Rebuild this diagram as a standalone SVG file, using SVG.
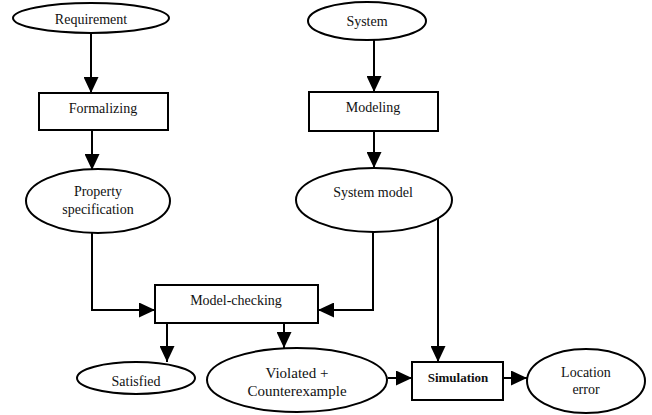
<svg xmlns="http://www.w3.org/2000/svg" width="652" height="415" viewBox="0 0 652 415">
<style>
.n{fill:#fff;stroke:#000;stroke-width:2}
.t{font-family:'Liberation Serif','DejaVu Serif','Times New Roman',serif;font-size:14px;fill:#111;text-anchor:middle}
.c{fill:none;stroke:#000;stroke-width:2}
</style>
<defs>
<marker id="a" viewBox="0 0 16 15" refX="16" refY="7.5" markerWidth="16" markerHeight="15" markerUnits="userSpaceOnUse" orient="auto">
<path d="M0,0 L16,7.5 L0,15 Z" fill="#000"/>
</marker>
</defs>
<rect width="652" height="415" fill="#fff"/>
<g id="connectors">
<path class="c" d="M91,32 V93" marker-end="url(#a)"/>
<path class="c" d="M92,130 V170" marker-end="url(#a)"/>
<path class="c" d="M374,40 V92" marker-end="url(#a)"/>
<path class="c" d="M374,131 V168" marker-end="url(#a)"/>
<path class="c" d="M92,233 V310 H155" marker-end="url(#a)"/>
<path class="c" d="M373,231 V310 H318" marker-end="url(#a)"/>
<path class="c" d="M167,323 V362" marker-end="url(#a)"/>
<path class="c" d="M284,323 V348" marker-end="url(#a)"/>
<path class="c" d="M438,218 V362" marker-end="url(#a)"/>
<path class="c" d="M388,378 H412" marker-end="url(#a)"/>
<path class="c" d="M503,378 H527" marker-end="url(#a)"/>
</g>
<g id="requirement"><ellipse class="n" cx="91" cy="18" rx="78" ry="15"/><text class="t" x="91" y="24">Requirement</text></g>
<g id="formalizing"><rect class="n" x="39" y="93" width="129" height="37"/><text class="t" x="103" y="113">Formalizing</text></g>
<g id="property"><ellipse class="n" cx="98" cy="201" rx="72" ry="32"/><text class="t" x="98" y="196">Property</text><text class="t" x="98" y="214">specification</text></g>
<g id="system"><ellipse class="n" cx="367" cy="21" rx="59" ry="19"/><text class="t" x="367" y="26">System</text></g>
<g id="modeling"><rect class="n" x="309" y="92" width="129" height="39"/><text class="t" x="373" y="112">Modeling</text></g>
<g id="systemmodel"><ellipse class="n" cx="374" cy="200" rx="78" ry="32"/><text class="t" x="373" y="197">System model</text></g>
<g id="modelchecking"><rect class="n" x="155" y="285" width="163" height="38"/><text class="t" x="236" y="305">Model-checking</text></g>
<g id="satisfied"><ellipse class="n" cx="136" cy="378" rx="59" ry="16"/><text class="t" x="136" y="386">Satisfied</text></g>
<g id="violated"><ellipse class="n" cx="297" cy="380" rx="90" ry="32"/><text class="t" x="297" y="378" style="font-size:15px">Violated +</text><text class="t" x="297" y="396" style="font-size:15px">Counterexample</text></g>
<g id="simulation"><rect class="n" x="412" y="362" width="91" height="38"/><text class="t" x="458" y="382" style="font-weight:bold;font-size:13px">Simulation</text></g>
<g id="location"><ellipse class="n" cx="586" cy="381" rx="59" ry="32"/><text class="t" x="586" y="377">Location</text><text class="t" x="586" y="394">error</text></g>
</svg>
